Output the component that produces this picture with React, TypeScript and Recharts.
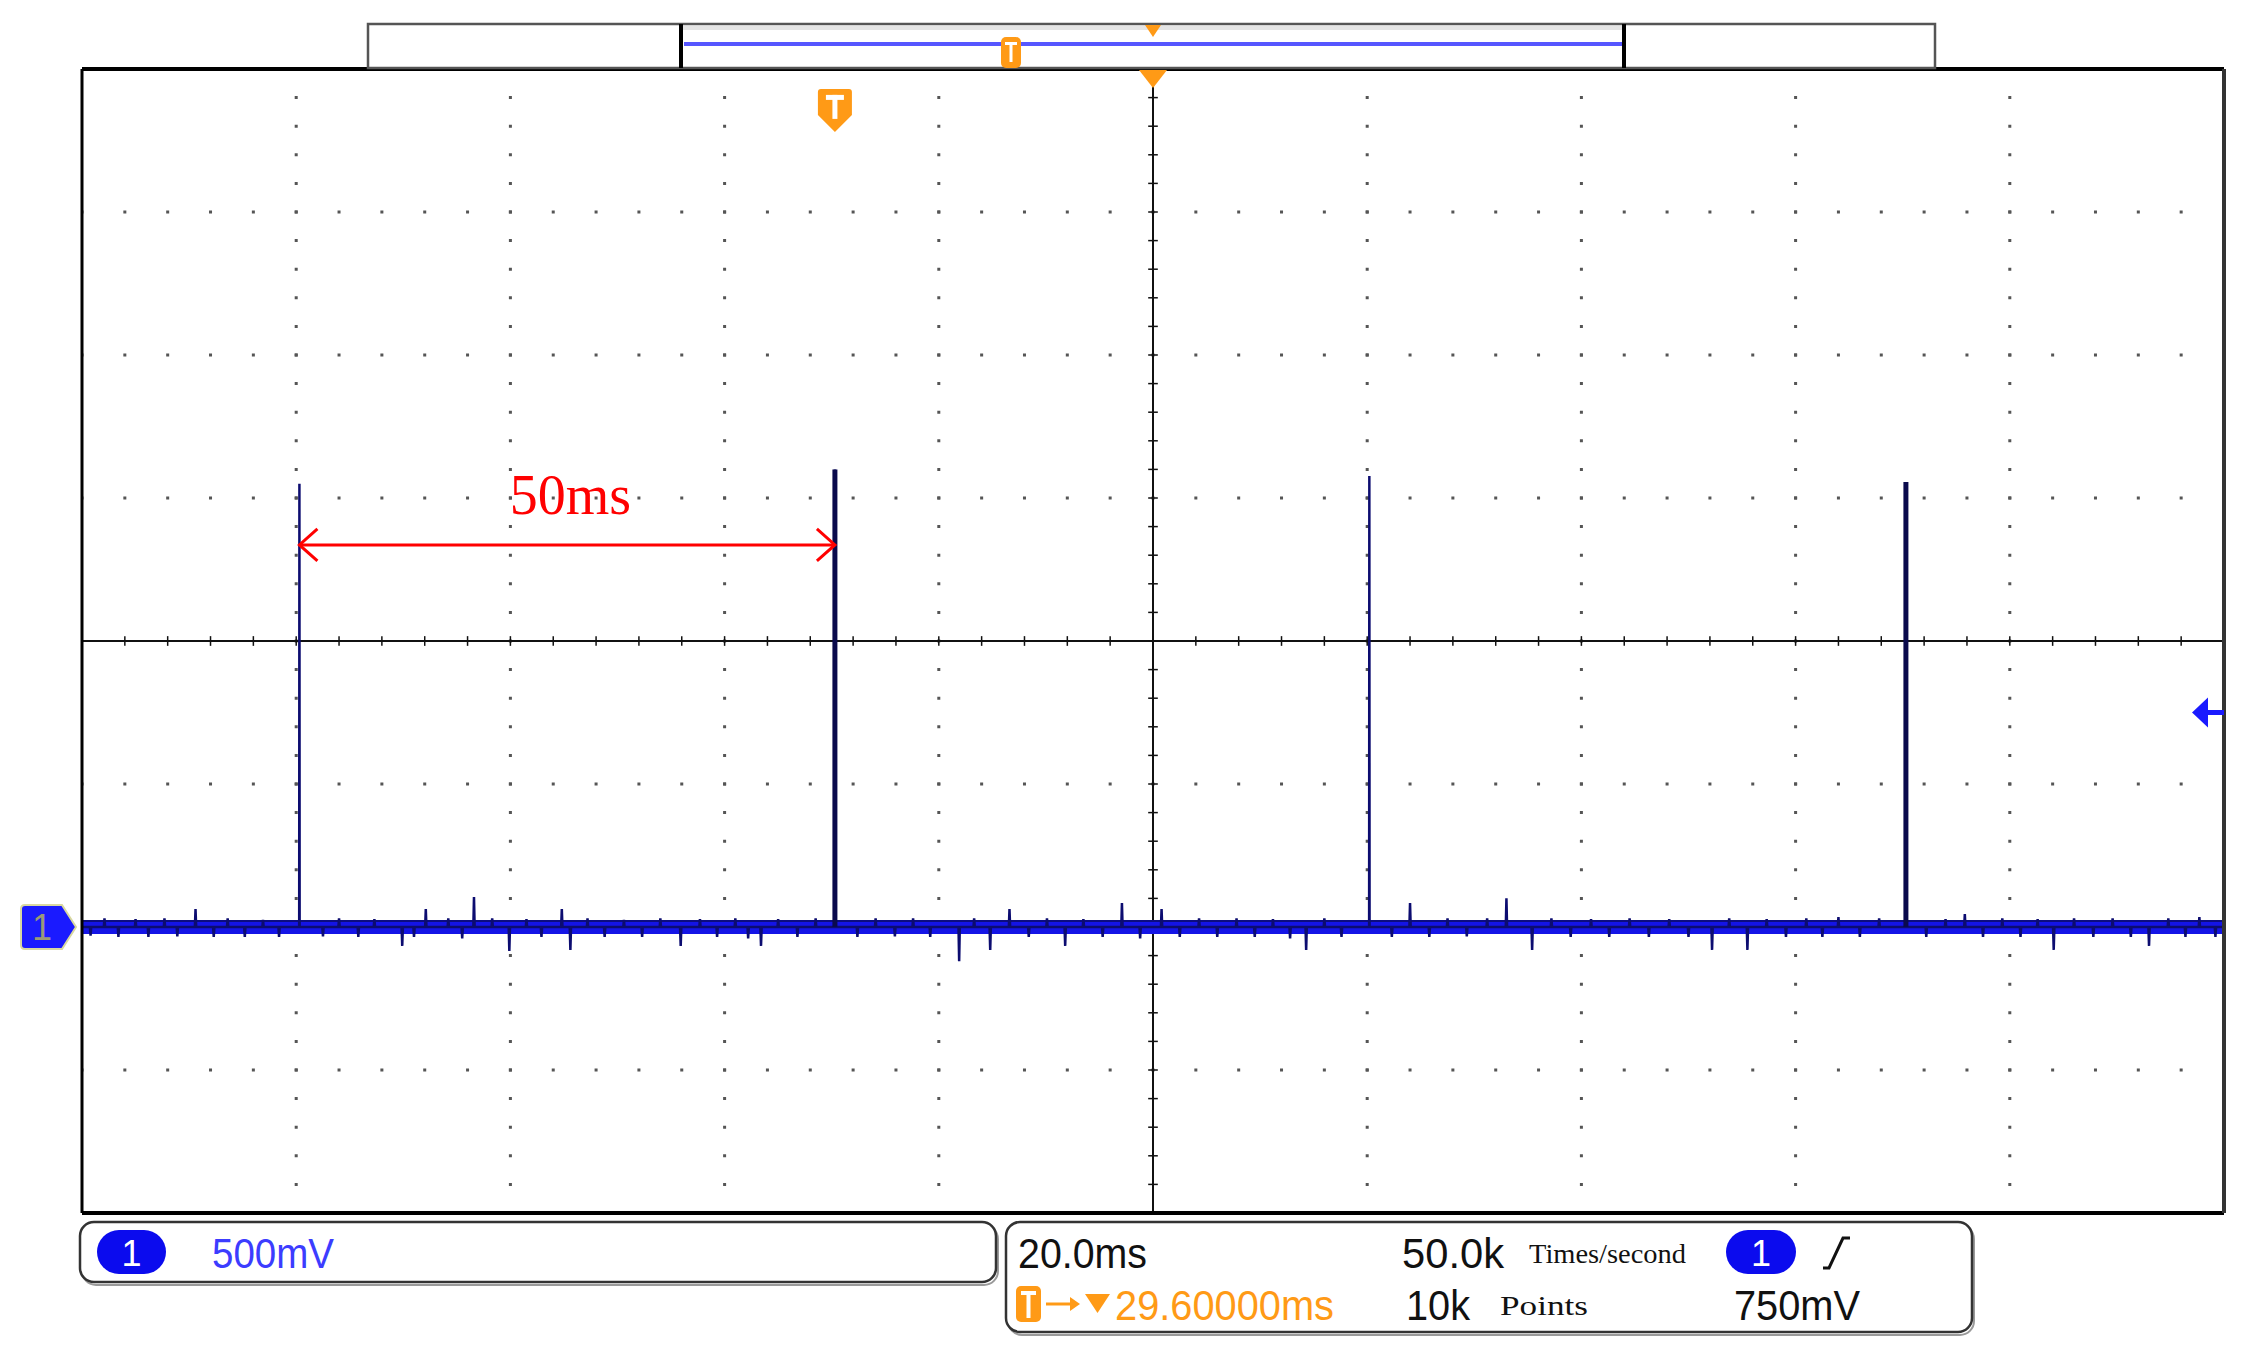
import React from 'react'
import { LineChart, Line, XAxis, YAxis, ReferenceLine, ReferenceDot } from 'recharts'

// scope screen: 10 div x 20 ms, 8 div x 500 mV, CH1 ground 2 div under centre
const timeDomain: [number, number] = [0, 200]
const voltDomain: [number, number] = [-1, 3]
const divTimes = [20, 40, 60, 80, 120, 140, 160, 180]
const divVolts = [-0.5, 0, 0.5, 1.5, 2, 2.5]
const centerTime = 100
const centerVolt = 1
const minorTimes = Array.from({ length: 51 }, (_, i) => i * 4)
const minorVolts = Array.from({ length: 41 }, (_, i) => +(-1 + i * 0.1).toFixed(2))

// the four trigger pulses, 50 ms apart
const pulseTimes = [20.3, 70.3, 120.2, 170.3]
const pulseVolts = [1.55, 1.6, 1.577, 1.556]

// bigger noise spikes seen on the baseline
const spikeTimes = [10.6, 29.9, 32.1, 36.6, 39.9, 44.8, 45.6, 55.9, 63.4, 81.9, 84.8, 86.6, 91.8, 97.1, 100.8, 114.3, 124.0, 133.0, 135.4, 152.2, 155.5, 164.0, 175.8, 184.1, 193.0, 197.7]
const spikeVolts = [0.063, -0.066, 0.063, 0.105, -0.084, 0.063, -0.08, -0.066, -0.066, -0.12, -0.08, 0.063, -0.066, 0.084, 0.063, -0.08, 0.084, 0.1, -0.08, -0.08, -0.08, 0.035, 0.045, -0.08, -0.066, 0.035]

// small comb of noise inside the trace band
const combTimes = [0.8, 2.1, 3.4, 5.0, 6.2, 7.7, 8.9, 12.3, 13.6, 15.2, 16.9, 18.4, 22.5, 24.0, 25.8, 27.3, 31.0, 34.2, 35.5, 38.3, 41.5, 42.9, 47.2, 48.8, 50.6, 52.3, 54.0, 57.7, 59.3, 61.0, 62.2, 65.0, 66.8, 68.5, 72.4, 74.1, 75.9, 77.6, 79.2, 83.3, 88.4, 90.1, 93.5, 95.3, 98.8, 102.5, 104.3, 106.0, 107.8, 109.5, 111.2, 112.8, 116.0, 117.6, 122.3, 125.8, 127.5, 129.3, 131.2, 137.2, 139.0, 140.9, 142.6, 144.5, 146.3, 148.2, 150.0, 153.8, 157.3, 159.1, 161.0, 162.5, 166.0, 167.8, 172.2, 174.0, 177.5, 179.3, 181.0, 182.6, 186.0, 187.8, 189.6, 191.3, 194.8, 196.4, 199.2]
const combVolts = [-0.03, 0.03, -0.035, 0.028, -0.035, 0.03, -0.033, -0.035, 0.03, -0.035, 0.025, -0.035, -0.033, 0.03, -0.035, 0.028, -0.035, 0.03, -0.04, 0.03, 0.028, -0.035, 0.03, -0.035, 0.025, -0.035, 0.03, 0.028, -0.035, 0.03, -0.04, 0.028, -0.035, 0.03, -0.035, 0.03, -0.033, 0.03, -0.035, 0.03, -0.035, 0.03, 0.028, -0.035, -0.04, -0.035, 0.03, -0.035, 0.03, -0.035, 0.028, -0.04, 0.03, -0.035, -0.035, -0.035, 0.03, -0.033, 0.03, 0.03, -0.035, 0.028, -0.035, 0.03, -0.035, 0.028, -0.035, 0.03, 0.028, -0.035, 0.03, -0.035, -0.035, 0.03, -0.035, 0.028, -0.035, 0.03, -0.035, 0.028, 0.03, -0.035, 0.03, -0.035, 0.03, -0.035, -0.035]

// dark upper edge of the noise band
const bandEdge = 0.021

const triggerTime = 70.3
const triggerLevel = 0.75
const periodLabel = '50ms'

type Pt = { t: number; v: number }

const events: Pt[] = [
  ...pulseTimes.map((t, i) => ({ t, v: pulseVolts[i] })),
  ...spikeTimes.map((t, i) => ({ t, v: spikeVolts[i] })),
  ...combTimes.map((t, i) => ({ t, v: combVolts[i] })),
].sort((a, b) => a.t - b.t)

const trace: Pt[] = [{ t: timeDomain[0], v: 0 }]
events.forEach((e) => {
  const w = Math.abs(e.v) > 1 ? 0.02 : 0.06
  trace.push({ t: e.t - w, v: 0 }, { t: e.t, v: e.v }, { t: e.t + w, v: 0 })
})
trace.push({ t: timeDomain[1], v: 0 })

const band: Pt[] = [{ t: timeDomain[0], v: 0 }, { t: timeDomain[1], v: 0 }]
const bandTop: Pt[] = [{ t: timeDomain[0], v: bandEdge }, { t: timeDomain[1], v: bandEdge }]
const thickPulses = [1, 3].map((i) => [{ t: pulseTimes[i], v: 0 }, { t: pulseTimes[i], v: pulseVolts[i] }])

const ORANGE = '#ff9a16'
const BLUE = '#1a1aff'
const SANS = "'Liberation Sans', Arial, sans-serif"
const SERIF = "'Liberation Serif', 'Times New Roman', serif"

const TMarker = (p: any) => {
  const { cx, cy } = p
  return (
    <g>
      <path d={`M${cx - 14} ${cy - 21} h28 q3 0 3 3 v23 l-17 17 l-17 -17 v-23 q0 -3 3 -3 z`} fill={ORANGE} />
      <rect x={cx - 9} y={cy - 15} width={18} height={5} fill="#fff" />
      <rect x={cx - 2.5} y={cy - 15} width={5} height={24} fill="#fff" />
    </g>
  )
}

const TopTriangle = (p: any) => {
  const { cx, cy } = p
  return <path d={`M${cx - 14} ${cy + 1} L${cx + 14} ${cy + 1} L${cx} ${cy + 19} Z`} fill={ORANGE} />
}

const LevelArrow = (p: any) => {
  const { cx, cy } = p
  return (
    <g fill={BLUE}>
      <path d={`M${cx - 32} ${cy} L${cx - 16} ${cy - 15} L${cx - 16} ${cy + 15} Z`} />
      <rect x={cx - 17} y={cy - 2.5} width={17} height={5} />
    </g>
  )
}

const ChannelMarker = (p: any) => {
  const { cx, cy } = p
  return (
    <g>
      <path
        d={`M${cx - 57} ${cy - 22} H${cx - 20} L${cx - 6} ${cy} L${cx - 20} ${cy + 22} H${cx - 57} Q${cx - 61} ${cy + 22} ${cx - 61} ${cy + 18} V${cy - 18} Q${cx - 61} ${cy - 22} ${cx - 57} ${cy - 22} Z`}
        fill={BLUE}
        stroke="#d8d8a0"
        strokeWidth={2}
      />
      <text x={cx - 40} y={cy + 13} textAnchor="middle" fontFamily={SANS} fontSize={36} fill="#9a9a78">1</text>
    </g>
  )
}

const PeriodArrow = (p: any) => {
  const { x1, y1, x2, y2 } = p
  return (
    <g stroke="#ff0000" strokeWidth={3} fill="none">
      <line x1={x1} y1={y1} x2={x2} y2={y2} />
      <path d={`M${x1 + 18} ${y1 - 16} L${x1} ${y1} L${x1 + 18} ${y1 + 16}`} />
      <path d={`M${x2 - 18} ${y2 - 16} L${x2} ${y2} L${x2 - 18} ${y2 + 16}`} />
    </g>
  )
}

const PeriodText = (p: any) => (
  <text x={p.cx} y={p.cy} textAnchor="middle" fontFamily={SERIF} fontSize={56} fill="#ff0000">{periodLabel}</text>
)

function Overlay() {
  return (
    <svg width={2248} height={1358} style={{ position: 'absolute', left: 0, top: 0, pointerEvents: 'none' }}>
      {/* record overview bar */}
      <rect x={368} y={24} width={1567} height={44} fill="#fff" stroke="#555" strokeWidth={2.5} />
      <rect x={683} y={26} width={939} height={4} fill="#e4e4e4" />
      <line x1={684} y1={44} x2={1622} y2={44} stroke="#5656ff" strokeWidth={4} />
      <line x1={681} y1={24} x2={681} y2={68} stroke="#000" strokeWidth={4} />
      <line x1={1624} y1={24} x2={1624} y2={68} stroke="#000" strokeWidth={4} />
      <rect x={1001} y={37} width={20} height={31} rx={5} fill={ORANGE} />
      <rect x={1005} y={42} width={12} height={3} fill="#fff" />
      <rect x={1009.5} y={42} width={3} height={20} fill="#fff" />
      <path d="M1145 25 L1161 25 L1153 37 Z" fill={ORANGE} />

      {/* channel panel */}
      <rect x={82} y={1225} width={916} height={60} rx={14} fill="none" stroke="#9a9a9a" strokeWidth={2} />
      <rect x={80} y={1222} width={916} height={60} rx={14} fill="#fff" stroke="#333" strokeWidth={2.5} />
      <rect x={97} y={1230} width={69} height={44} rx={22} fill="#0b0bee" />
      <text x={131.5} y={1266} textAnchor="middle" fontFamily={SANS} fontSize={36} fill="#fff">1</text>
      <text x={212} y={1268} fontFamily={SANS} fontSize={42} fill="#3c3cff" textLength={122} lengthAdjust="spacingAndGlyphs">500mV</text>

      {/* timebase / trigger panel */}
      <rect x={1008} y={1225} width={966} height={110} rx={14} fill="none" stroke="#9a9a9a" strokeWidth={2} />
      <rect x={1006} y={1222} width={966} height={110} rx={14} fill="#fff" stroke="#333" strokeWidth={2.5} />
      <text x={1018} y={1268} fontFamily={SANS} fontSize={42} fill="#111" textLength={129} lengthAdjust="spacingAndGlyphs">20.0ms</text>
      <text x={1402} y={1268} fontFamily={SANS} fontSize={42} fill="#111" textLength={102} lengthAdjust="spacingAndGlyphs">50.0k</text>
      <text x={1529} y={1263} fontFamily={SERIF} fontSize={27} fill="#111" textLength={157} lengthAdjust="spacingAndGlyphs">Times/second</text>
      <rect x={1726} y={1230} width={70} height={44} rx={22} fill="#0b0bee" />
      <text x={1761} y={1266} textAnchor="middle" fontFamily={SANS} fontSize={36} fill="#fff">1</text>
      <path d="M1823 1268 L1829 1268 L1843 1238 L1850 1238" stroke="#111" strokeWidth={3} fill="none" />

      <rect x={1016} y={1286} width={25} height={36} rx={5} fill={ORANGE} />
      <rect x={1021} y={1291} width={15} height={4} fill="#fff" />
      <rect x={1026.5} y={1291} width={4} height={27} fill="#fff" />
      <line x1={1046} y1={1304} x2={1076} y2={1304} stroke={ORANGE} strokeWidth={3} />
      <path d="M1070 1297 L1080 1304 L1070 1311 Z" fill={ORANGE} />
      <path d="M1085 1294 L1110 1294 L1097.5 1313 Z" fill={ORANGE} />
      <text x={1115} y={1320} fontFamily={SANS} fontSize={42} fill={ORANGE} textLength={219} lengthAdjust="spacingAndGlyphs">29.60000ms</text>
      <text x={1406} y={1320} fontFamily={SANS} fontSize={42} fill="#111" textLength={64} lengthAdjust="spacingAndGlyphs">10k</text>
      <text x={1500} y={1315} fontFamily={SERIF} fontSize={27} fill="#111" textLength={88} lengthAdjust="spacingAndGlyphs">Points</text>
      <text x={1734} y={1320} fontFamily={SANS} fontSize={42} fill="#111" textLength={126} lengthAdjust="spacingAndGlyphs">750mV</text>
    </svg>
  )
}

export default function App() {
  return (
    <div style={{ position: 'absolute', left: 0, top: 0, width: 2248, height: 1358, background: '#fff' }}>
      <LineChart width={2248} height={1358} margin={{ top: 69, right: 24, bottom: 145, left: 82 }}>
        <XAxis
          xAxisId={0}
          dataKey="t"
          type="number"
          domain={timeDomain}
          ticks={minorTimes}
          interval={0}
          orientation="bottom"
          mirror
          tick={false}
          tickSize={8}
          tickLine={{ stroke: '#000', strokeWidth: 1.5 }}
          axisLine={{ stroke: '#000', strokeWidth: 4 }}
          allowDataOverflow
        />
        <XAxis
          xAxisId="top"
          dataKey="t"
          type="number"
          domain={timeDomain}
          ticks={minorTimes}
          interval={0}
          orientation="top"
          mirror
          tick={false}
          tickSize={8}
          tickLine={{ stroke: '#000', strokeWidth: 1.5 }}
          axisLine={{ stroke: '#000', strokeWidth: 4 }}
          allowDataOverflow
        />
        <YAxis
          yAxisId={0}
          type="number"
          domain={voltDomain}
          ticks={minorVolts}
          interval={0}
          orientation="left"
          mirror
          tick={false}
          tickSize={5}
          tickLine={{ stroke: '#222', strokeWidth: 1.5 }}
          axisLine={{ stroke: '#000', strokeWidth: 3 }}
          allowDataOverflow
        />
        <YAxis
          yAxisId="right"
          type="number"
          domain={voltDomain}
          ticks={minorVolts}
          interval={0}
          orientation="right"
          mirror
          tick={false}
          tickSize={5}
          tickLine={{ stroke: '#222', strokeWidth: 1.5 }}
          axisLine={{ stroke: '#333', strokeWidth: 4 }}
          allowDataOverflow
        />

        {/* dotted graticule */}
        {divTimes.map((t) => (
          <ReferenceLine key={'vx' + t} x={t} stroke="#555" strokeWidth={3} strokeDasharray="3 25.6" strokeDashoffset={1.5} />
        ))}
        {divVolts.map((v) => (
          <ReferenceLine key={'hy' + v} y={v} stroke="#555" strokeWidth={3} strokeDasharray="3 39.84" strokeDashoffset={1.5} />
        ))}

        {/* centre cross with minor ticks */}
        <ReferenceLine x={centerTime} stroke="#111" strokeWidth={2} />
        <ReferenceLine y={centerVolt} stroke="#111" strokeWidth={2} />
        {minorTimes.slice(1, -1).map((t) => (
          <ReferenceLine key={'ct' + t} segment={[{ x: t, y: centerVolt - 0.017 }, { x: t, y: centerVolt + 0.017 }]} stroke="#111" strokeWidth={1.5} />
        ))}
        {minorVolts.slice(1, -1).map((v) => (
          <ReferenceLine key={'cv' + v} segment={[{ x: centerTime - 0.45, y: v }, { x: centerTime + 0.45, y: v }]} stroke="#111" strokeWidth={1.5} />
        ))}

        <Line data={band} dataKey="v" stroke="#1414e6" strokeWidth={14} dot={false} isAnimationActive={false} />
        <Line data={bandTop} dataKey="v" stroke="#0c0c80" strokeWidth={2} dot={false} isAnimationActive={false} />
        <Line data={trace} dataKey="v" stroke="#0c0c70" strokeWidth={2.5} dot={false} isAnimationActive={false} />
        {thickPulses.map((d, i) => (
          <Line key={'tp' + i} data={d} dataKey="v" stroke="#0a0a4c" strokeWidth={5} dot={false} isAnimationActive={false} />
        ))}

        <ReferenceLine segment={[{ x: pulseTimes[0], y: 1.336 }, { x: pulseTimes[1], y: 1.336 }]} shape={PeriodArrow} />
        <ReferenceDot x={45.6} y={1.444} r={0} shape={PeriodText} ifOverflow="visible" />

        <ReferenceDot x={triggerTime} y={2.857} r={0} shape={TMarker} ifOverflow="visible" />
        <ReferenceDot x={centerTime} y={voltDomain[1]} r={0} shape={TopTriangle} ifOverflow="visible" />
        <ReferenceDot x={timeDomain[1]} y={triggerLevel} r={0} shape={LevelArrow} ifOverflow="visible" />
        <ReferenceDot x={timeDomain[0]} y={0} r={0} shape={ChannelMarker} ifOverflow="visible" />
      </LineChart>
      <Overlay />
    </div>
  )
}
